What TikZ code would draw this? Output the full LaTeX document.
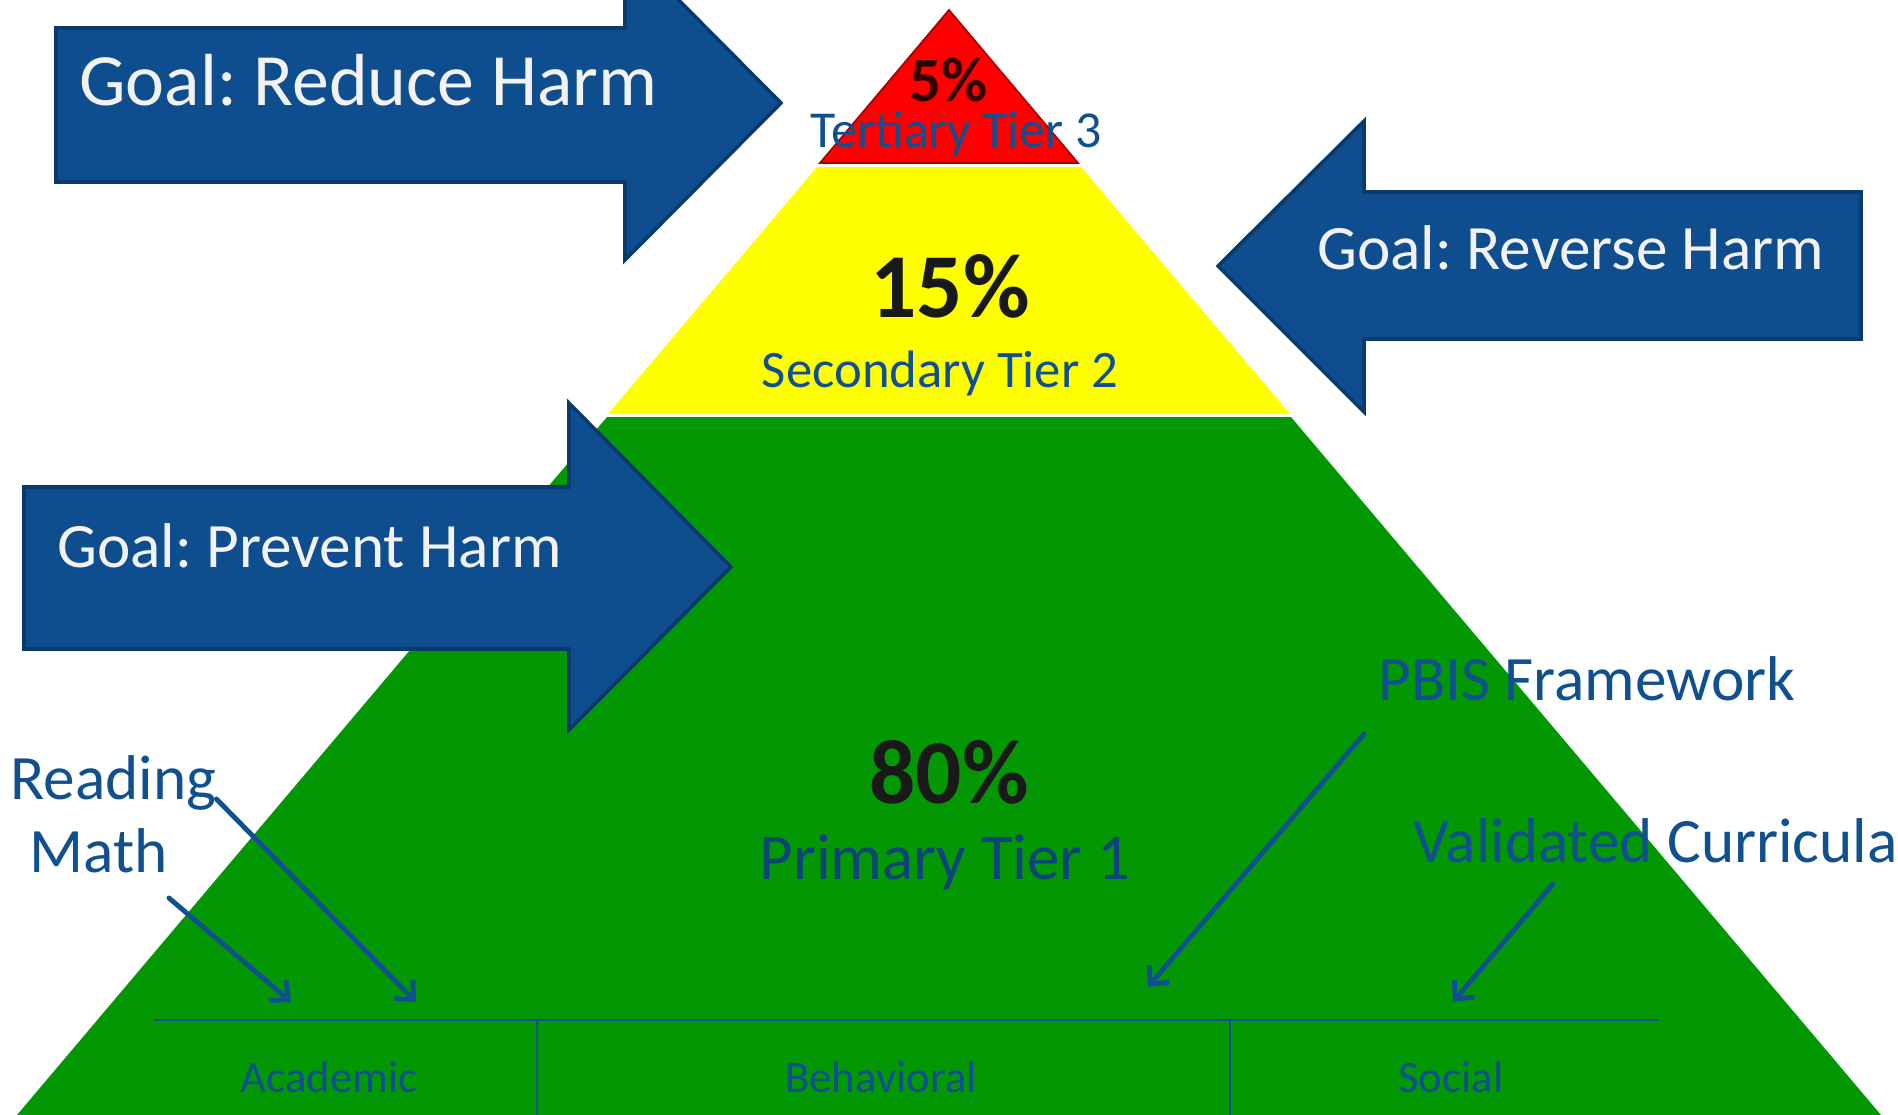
\documentclass[tikz,border=0pt]{standalone}
\usepackage{fontspec}
\setmainfont{Carlito}
\usetikzlibrary{arrows.meta}
\definecolor{tiergreen}{HTML}{039803}
\definecolor{tieryellow}{HTML}{FFFF00}
\definecolor{tierred}{HTML}{FF0000}
\definecolor{goalblue}{HTML}{0E4D8E}
\definecolor{goaledge}{HTML}{0A3A6C}
\definecolor{labelblue}{HTML}{11508F}
\newcommand{\fsz}[1]{\fontsize{#1}{#1}\selectfont}
\frenchspacing

\begin{document}
\begin{tikzpicture}[x=0.02cm,y=-0.02cm,
    lbl/.style={inner sep=0, text=labelblue},
    goaltext/.style={inner sep=0, text=white!95!black, anchor=base west, font=\fsz{36pt}},
    goal/.style={fill=goalblue, draw=goaledge, line width=2pt},
    pointer/.style={draw=labelblue, line width=2.8pt, line cap=round, -{Straight Barb[length=8pt,width=15pt]}},
    colline/.style={draw=labelblue, line width=1.2pt}]
    \useasboundingbox (0,0) rectangle (1898,1115);
    \clip (0,0) rectangle (1898,1115);

    % tiers
    \fill[tiergreen] (607,417) -- (1291,417) -- (1881,1115) -- (17,1115) -- cycle;
    \fill[tieryellow] (817,167) -- (1081,167) -- (1290,414) -- (608,414) -- cycle;
    \filldraw[fill=tierred, draw=tierred!65!black, line width=1pt] (949,10) -- (820,163) -- (1078,163) -- cycle;

    % columns
    \draw[colline] (154,1020) -- (1658,1020)
    (537,1020) -- (537,1115)
    (1230,1020) -- (1230,1115);

    \draw
    (949,102)node[inner sep=0, anchor=base, font=\fsz{36pt}\bfseries, text=black!80!red](p3){5\%}
    (956,148)node[lbl, anchor=base, font=\fsz{29.5pt}](t3){Tertiary Tier 3}
    (950,317)node[inner sep=0, anchor=base, font=\fsz{52pt}\bfseries, text=black!90](p2){15\%}
    (940,387)node[lbl, anchor=base, font=\fsz{30pt}](t2){Secondary Tier 2}
    (949,803)node[inner sep=0, anchor=base, font=\fsz{52pt}\bfseries, text=black!90](p1){80\%}
    (945,879)node[lbl, anchor=base, font=\fsz{37pt}, text=labelblue!85!black](t1){Primary Tier 1}
    (329,1092)node[lbl, anchor=base, font=\fsz{25.5pt}](acad){Academic}
    (881,1092)node[lbl, anchor=base, font=\fsz{25.5pt}](behav){Behavioral}
    (1451,1092)node[lbl, anchor=base, font=\fsz{25.5pt}](social){Social}
    ;

    % goals
    \draw[goal] (56,28) -- (625,28) -- (625,-54) -- (781,103) -- (625,260) -- (625,182) -- (56,182) -- cycle;
    \node[goaltext, font=\fsz{42pt}] (reduce) at (79,106) {Goal: Reduce Harm};
    \draw[goal] (1861,192) -- (1364,192) -- (1364,121) -- (1218,266) -- (1364,412) -- (1364,339) -- (1861,339) -- cycle;
    \node[goaltext] (reverse) at (1317,269) {Goal: Reverse Harm};
    \draw[goal] (24,487) -- (569,487) -- (569,403) -- (731,567) -- (569,730) -- (569,649) -- (24,649) -- cycle;
    \node[goaltext] (prevent) at (57,567) {Goal: Prevent Harm};

    % side labels
    \node[lbl, anchor=base west, font=\fsz{36pt}] (reading) at (10,799) {Reading};
    \node[lbl, anchor=base west, font=\fsz{36pt}] (math) at (29,872) {Math};
    \node[lbl, anchor=base west, font=\fsz{36pt}] (pbis) at (1378,700) {PBIS Framework};
    \node[lbl, anchor=base west, font=\fsz{36pt}] (valid) at (1413,862) {Validated Curricula};

    \coordinate (mathtail) at (169,898);
    \coordinate (readhead) at (416,1002);
    \coordinate (mathhead) at (291,1002);
    \coordinate (pbistail) at (1364,734);
    \coordinate (pbishead) at (1148,987);
    \coordinate (validtail) at (1553,884);
    \coordinate (validhead) at (1453,1002);
    \draw[pointer] (reading.base east) -- (readhead);
    \draw[pointer] (mathtail) -- (mathhead);
    \draw[pointer] (pbistail) -- (pbishead);
    \draw[pointer] (validtail) -- (validhead);
\end{tikzpicture}
\end{document}
